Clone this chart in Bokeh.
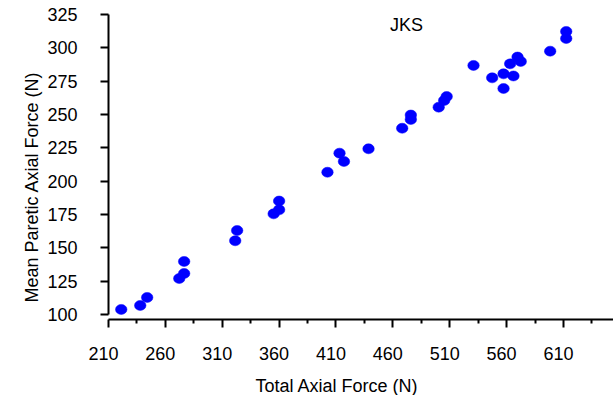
import math
from bokeh.plotting import figure
from bokeh.models import Label, FixedTicker, Range1d, ColumnDataSource, Title
from bokeh.embed import file_html
from bokeh.resources import INLINE

# Data
total_axial_force = [221.2, 237.9, 244.0, 272.2, 276.5, 276.5, 321.4, 323.1,
                     355.2, 360.0, 360.0, 402.5, 413.1, 417.0, 438.6, 468.2,
                     475.8, 475.8, 500.3, 505.1, 507.3, 530.9, 547.3, 557.3,
                     566.0, 557.3, 563.1, 569.6, 572.4, 598.3, 612.4, 612.4]
mean_paretic_force = [103.8, 106.8, 112.8, 127.0, 130.8, 139.8, 155.3, 163.0,
                      175.5, 178.5, 185.1, 206.7, 221.0, 214.8, 224.3, 239.7,
                      246.3, 249.6, 255.5, 260.5, 263.5, 286.8, 277.5, 280.5,
                      278.9, 269.5, 288.0, 293.1, 289.8, 297.5, 312.3, 307.0]
x_ticks = [210, 260, 310, 360, 410, 460, 510, 560, 610, 660]
x_minor_ticks = [235, 285, 335, 385, 435, 485, 535, 585, 635]
y_ticks = [100, 125, 150, 175, 200, 225, 250, 275, 300, 325]
title_text = "JKS"
x_label = "Total Axial Force (N)"
y_label = "Mean Paretic Axial Force (N)"

FONT = "Liberation Sans"

p = figure(width=613, height=395, title=None,
           x_range=Range1d(210, 653.96), y_range=Range1d(96.25, 329.5),
           output_backend="svg", toolbar_location=None,
           min_border_left=108, min_border_right=0,
           min_border_top=8, min_border_bottom=76)
p.outline_line_color = None
p.background_fill_color = "white"
p.border_fill_color = "white"
p.xgrid.grid_line_color = None
p.ygrid.grid_line_color = None

src = ColumnDataSource(dict(x=total_axial_force, y=mean_paretic_force))
p.ellipse(x="x", y="y", width=11.5, height=10,
          width_units="screen", height_units="screen",
          fill_color="#0000ff", line_color="#0000ff", line_width=0.5, source=src)

xa = p.xaxis[0]
xa.ticker = FixedTicker(ticks=x_ticks, minor_ticks=x_minor_ticks)
# labels in the reference sit slightly left of their ticks
xa.major_label_overrides = {t: f"{t}\u00a0\u00a0" for t in x_ticks}
xa.axis_line_width = 2
xa.major_tick_line_width = 2
xa.minor_tick_line_width = 2
xa.major_tick_in = 0
xa.major_tick_out = 8
xa.minor_tick_in = 0
xa.minor_tick_out = 4
xa.major_label_standoff = 16
xa.major_label_text_font = FONT
xa.major_label_text_font_size = "18px"
xa.major_label_text_color = "black"
xa.axis_line_color = "black"
xa.major_tick_line_color = "black"
xa.minor_tick_line_color = "black"

ya = p.yaxis[0]
ya.ticker = FixedTicker(ticks=y_ticks, minor_ticks=[])
ya.bounds = (100, 325)
ya.axis_line_width = 2
ya.major_tick_line_width = 2
ya.major_tick_in = 0
ya.major_tick_out = 8
ya.minor_tick_out = 0
ya.minor_tick_in = 0
ya.major_label_standoff = 23
ya.major_label_text_font = FONT
ya.major_label_text_font_size = "18px"
ya.major_label_text_color = "black"
ya.axis_line_color = "black"
ya.major_tick_line_color = "black"

p.add_layout(Label(x=298, y=295, x_units="screen", y_units="screen",
                   text=title_text, text_font=FONT, text_font_size="18px",
                   text_align="center", text_baseline="alphabetic",
                   text_color="black"))

# thin spacer, then the x label placed with a left offset
p.add_layout(Title(text=" ", text_font_size="1px", standoff=4), "below")
p.add_layout(Title(text=x_label, align="left", offset=147, standoff=0,
                   vertical_align="bottom",
                   text_font=FONT, text_font_size="18px",
                   text_font_style="normal", text_color="black"), "below")
p.add_layout(Title(text=y_label, align="left", offset=17, standoff=5,
                   text_font=FONT, text_font_size="18px",
                   text_font_style="normal", text_color="black"), "left")

open("out.html", "w").write(file_html(p, INLINE))
